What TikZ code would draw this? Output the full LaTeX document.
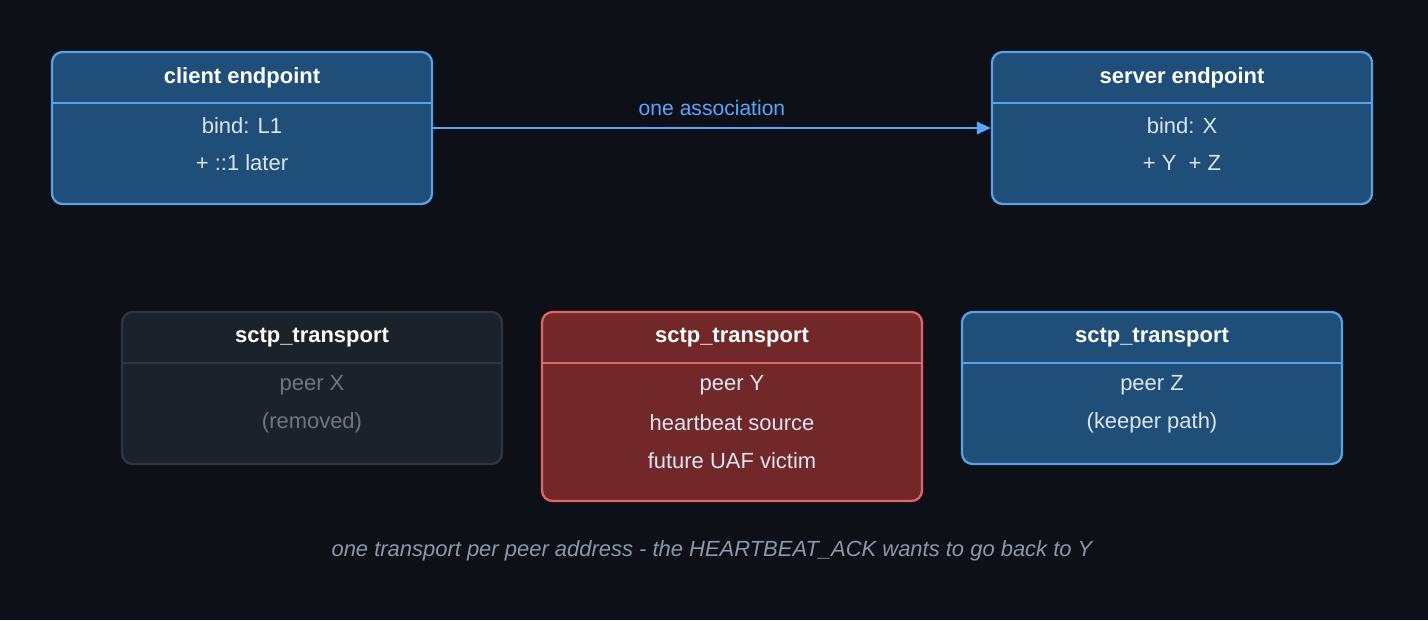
\documentclass[tikz,border=0pt]{standalone}
\usepackage{fontspec}
\setmainfont{Liberation Sans}
\usetikzlibrary{arrows.meta,positioning}
\definecolor{bgc}{HTML}{0D1117}
\definecolor{bluefill}{HTML}{1F4E79}
\definecolor{blueline}{HTML}{5AA0E6}
\definecolor{greyfill}{HTML}{1B222C}
\definecolor{greyline}{HTML}{30363D}
\definecolor{greytext}{HTML}{6E7681}
\definecolor{redfill}{HTML}{722828}
\definecolor{redline}{HTML}{E06666}
\definecolor{bodytext}{HTML}{DCE6F0}
\definecolor{captext}{HTML}{8B98A8}
\definecolor{linkc}{HTML}{58A6FF}
\tikzset{
  box/.style={rectangle,rounded corners=6pt,line width=1.3pt,minimum width=380*0.02cm,minimum height=152*0.02cm,inner sep=0pt},
  bluebox/.style={box,draw=blueline,fill=bluefill},
  greybox/.style={box,draw=greyline,fill=greyfill},
  redbox/.style={box,draw=redline,fill=redfill},
  title/.style={font=\fontsize{12.5}{15}\selectfont\bfseries,text=white},
  line/.style={font=\fontsize{12.5}{15}\selectfont,text=bodytext},
  dimline/.style={font=\fontsize{12.5}{15}\selectfont,text=greytext}
}
\newcommand{\sep}[3]{\draw[#3,line width=0.8pt] ([yshift=-52*0.02cm]#1.north west) -- ([yshift=-52*0.02cm]#1.north east) coordinate (#2);}
\begin{document}
\begin{tikzpicture}[x=0.02cm,y=-0.02cm]
  \fill[bgc] (0,0) rectangle (1428,620);
  \useasboundingbox (0,0) rectangle (1428,620);
  % endpoints
  \node[bluebox] (client) at (242,128) {};
  \node[bluebox] (server) at (1182,128) {};
  \sep{client}{clientsep}{blueline}
  \sep{server}{serversep}{blueline}
  \node[title] (clientt) at (242,78) {client endpoint};
  \node[line] (clienta) at (242,126) {bind: L1};
  \node[line] (clientb) at (242,163) {+ ::1 later};
  \node[title] (servert) at (1182,78) {server endpoint};
  \node[line] (servera) at (1182,126) {bind: X};
  \node[line] (serverb) at (1182,163) {+ Y\ \ + Z};
  \draw[-{Triangle[length=8pt,width=7pt]},linkc,line width=1.3pt] (client) -- (server)
    node[midway,above=3pt,font=\fontsize{12}{14}\selectfont,text=linkc] {one association};
  % transports
  \node[greybox] (tx) at (312,388) {};
  \node[redbox,minimum height=189*0.02cm] (ty) at (732,406.5) {};
  \node[bluebox] (tz) at (1152,388) {};
  \sep{tx}{txsep}{greyline}
  \sep{ty}{tysep}{redline}
  \sep{tz}{tzsep}{blueline}
  \node[title] (txt) at (312,338) {sctp\_transport};
  \node[dimline] (txa) at (312,385) {peer X};
  \node[dimline] (txb) at (312,423) {(removed)};
  \node[title] (tyt) at (732,338) {sctp\_transport};
  \node[line] (tya) at (732,385) {peer Y};
  \node[line] (tyb) at (732,423) {heartbeat source};
  \node[line] (tyc) at (732,461) {future UAF victim};
  \node[title] (tzt) at (1152,338) {sctp\_transport};
  \node[line] (tza) at (1152,385) {peer Z};
  \node[line] (tzb) at (1152,423) {(keeper path)};
  % caption
  \node[font=\fontsize{12.5}{15}\selectfont\itshape,text=captext] (caption) at (712,551)
    {one transport per peer address - the HEARTBEAT\_ACK wants to go back to Y};
\end{tikzpicture}
\end{document}
